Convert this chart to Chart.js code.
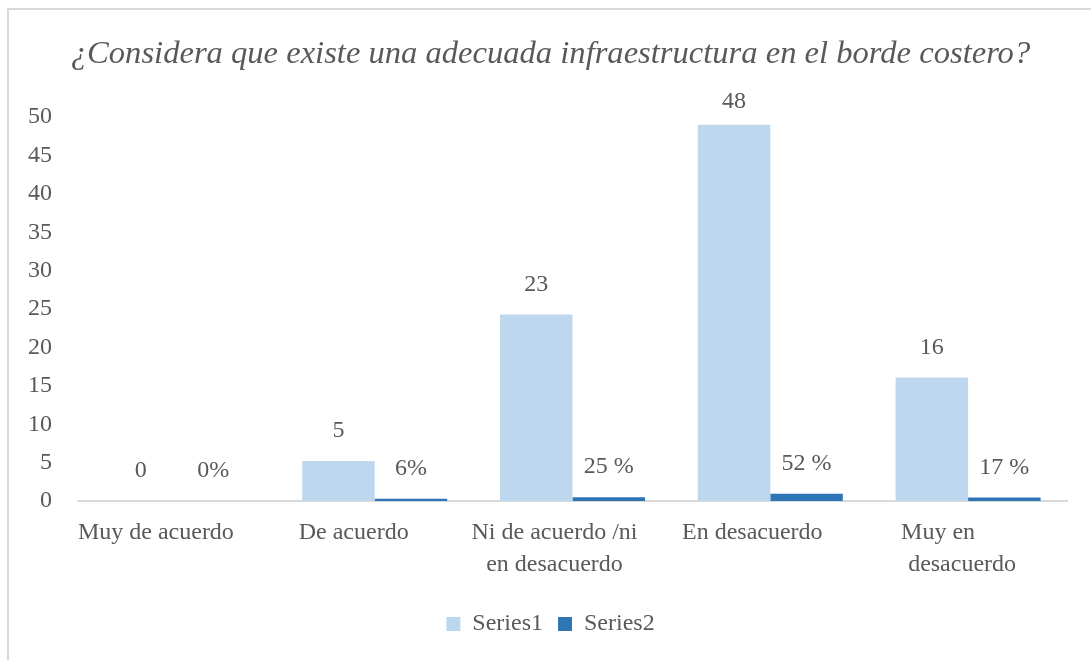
<!DOCTYPE html>
<html>
<head>
<meta charset="utf-8">
<script src="https://cdn.jsdelivr.net/npm/chart.js@4.4.1/dist/chart.umd.min.js"></script>
<style>
  html, body { margin: 0; padding: 0; background: #ffffff; }
  #wrap { position: relative; width: 1091px; height: 660px; overflow: hidden; }
  #frame { position: absolute; left: 7px; top: 8px; width: 1200px; height: 800px; border-left: 2px solid #d9d9d9; border-top: 2px solid #d9d9d9; box-sizing: border-box; }
  canvas { position: absolute; left: 0; top: 0; }
</style>
</head>
<body>
<div id="wrap">
  <div id="frame"></div>
  <canvas id="c" width="1091" height="660"></canvas>
</div>
<script>
const title = "¿Considera que existe una adecuada infraestructura en el borde costero?";
const categories = [
  ["Muy de acuerdo"],
  ["De acuerdo"],
  ["Ni de acuerdo /ni", "en desacuerdo"],
  ["En desacuerdo"],
  ["Muy en", "desacuerdo"]
];
const seriesNames = ["Series1", "Series2"];
const series1 = [0, 5.2, 24.3, 49, 16.1];
const series2 = [0, 0.3, 0.5, 0.95, 0.45];
const series1Labels = ["0", "5", "23", "48", "16"];
const series2Labels = ["0%", "6%", "25 %", "52 %", "17 %"];
const yMin = 0, yMax = 50, yStep = 5;

const FONT = "'Liberation Serif', 'Times New Roman', serif";
const TEXT = "#595959";
// trailing-space padding (style only) that nudges each tick line left like the original
const tickPad = [[7], [7], [6, 6], [6], [10, 2]];

const dataLabels = {
  id: 'dataLabels',
  afterDatasetsDraw(chart) {
    const ctx = chart.ctx;
    const texts = [series1Labels, series2Labels];
    ctx.save();
    ctx.font = "24px " + FONT;
    ctx.fillStyle = TEXT;
    ctx.textAlign = "center";
    ctx.textBaseline = "middle";
    chart.data.datasets.forEach((ds, di) => {
      const meta = chart.getDatasetMeta(di);
      meta.data.forEach((el, i) => {
        const y = Math.max(el.y - 30, chart.chartArea.top - 15);
        ctx.fillText(texts[di][i], el.x, y);
      });
    });
    ctx.restore();
  }
};

new Chart(document.getElementById('c'), {
  type: 'bar',
  data: {
    labels: categories,
    datasets: [
      { label: seriesNames[0], data: series1, backgroundColor: '#BDD7EE', categoryPercentage: 0.733, barPercentage: 1.0 },
      { label: seriesNames[1], data: series2, backgroundColor: '#2E75B6', categoryPercentage: 0.733, barPercentage: 1.0 }
    ]
  },
  options: {
    responsive: false,
    animation: false,
    devicePixelRatio: 1,
    layout: { padding: { left: 10, right: 0, top: 22, bottom: 14 } },
    plugins: {
      title: {
        display: true,
        text: title,
        color: TEXT,
        font: { family: FONT, size: 32.6, style: 'italic', weight: 'normal', lineHeight: 1.2 },
        padding: { top: 13, bottom: 43 }
      },
      legend: {
        position: 'bottom',
        labels: {
          color: TEXT,
          font: { family: FONT, size: 24, lineHeight: 0.8 },
          boxWidth: 14,
          boxHeight: 14,
          padding: 15
        }
      },
      tooltip: { enabled: false }
    },
    scales: {
      x: {
        grid: { display: false, drawTicks: false },
        border: { display: true, color: '#d9d9d9', width: 2 },
        ticks: {
          color: TEXT, font: { family: FONT, size: 24, lineHeight: 1.333 }, padding: 16, maxRotation: 0, autoSkip: false,
          callback: function (value, index) {
            const lbl = categories[index];
            return lbl.map((line, li) => line + '\u00A0'.repeat(tickPad[index][li] || 0));
          }
        }
      },
      y: {
        min: yMin, max: yMax,
        grid: { display: false, drawTicks: false },
        border: { display: false },
        ticks: { stepSize: yStep, color: TEXT, font: { family: FONT, size: 24 }, padding: 26 },
        afterFit(scale) { scale.width = 68; }
      },
      yR: {
        position: 'right',
        display: true,
        grid: { display: false, drawTicks: false },
        border: { display: false },
        ticks: { display: false },
        afterFit(scale) { scale.width = 24; }
      }
    }
  },
  plugins: [dataLabels]
});
</script>
</body>
</html>
